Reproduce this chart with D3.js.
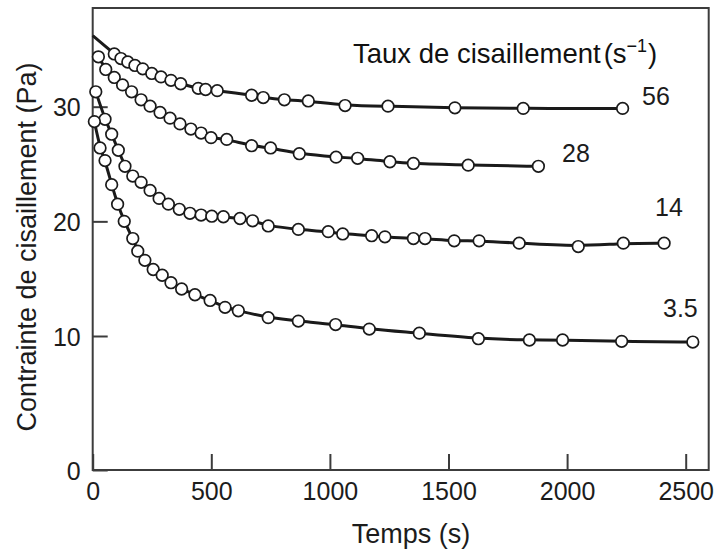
<!DOCTYPE html>
<html>
<head>
<meta charset="utf-8">
<script src="https://cdn.jsdelivr.net/npm/d3@7"></script>
<style>
  html, body { margin: 0; padding: 0; background: #fff; }
  svg { display: block; font-family: "Liberation Sans", Arial, Helvetica, sans-serif; }
</style>
</head>
<body>
<svg id="chart" width="717" height="550"></svg>
<script>
// Shear stress relaxation at four shear rates (time in s, stress in Pa)
const rateLabels = ["56", "28", "14", "3.5"];

const times56  = [91, 119, 148, 178, 211, 249, 288, 330, 371, 445, 476, 525, 670, 719, 808, 909, 1064, 1245, 1527, 1815, 2234];
const stress56 = [34.6, 34.2, 33.9, 33.6, 33.3, 32.9, 32.6, 32.3, 32.0, 31.6, 31.5, 31.4, 31.0, 30.8, 30.6, 30.5, 30.1, 30.05, 29.9, 29.85, 29.85];
// fitted curve for 56 s^-1 starts at the axis
const fitStart56 = [0, 36.2];

const times28  = [24, 55, 91, 126, 164, 204, 242, 284, 326, 368, 414, 457, 499, 565, 670, 750, 871, 1026, 1117, 1253, 1352, 1583, 1879];
const stress28 = [34.35, 33.25, 32.55, 31.9, 31.3, 30.6, 30.05, 29.5, 29.0, 28.5, 28.05, 27.7, 27.3, 27.15, 26.6, 26.4, 25.9, 25.6, 25.5, 25.2, 25.05, 24.9, 24.8];

const times14  = [13, 52, 80, 108, 136, 169, 204, 242, 280, 319, 365, 410, 457, 502, 551, 621, 674, 740, 867, 993, 1054, 1176, 1232, 1352, 1401, 1524, 1629, 1798, 2047, 2237, 2409];
const stress14 = [31.3, 28.9, 27.6, 26.2, 24.8, 23.95, 23.4, 22.7, 22.0, 21.5, 21.05, 20.7, 20.55, 20.45, 20.4, 20.25, 20.05, 19.6, 19.3, 19.1, 18.9, 18.75, 18.65, 18.5, 18.5, 18.3, 18.3, 18.1, 17.8, 18.1, 18.1];

const times35  = [7, 31, 52, 80, 105, 133, 169, 190, 220, 255, 293, 330, 375, 431, 495, 558, 614, 740, 867, 1024, 1166, 1377, 1626, 1841, 1981, 2230, 2530];
const stress35 = [28.7, 26.4, 25.3, 23.2, 21.5, 20.0, 18.5, 17.4, 16.6, 15.8, 15.3, 14.65, 14.1, 13.6, 13.1, 12.5, 12.2, 11.6, 11.3, 11.0, 10.6, 10.25, 9.8, 9.7, 9.7, 9.6, 9.55];

const xTicks = [0, 500, 1000, 1500, 2000, 2500];
const yTicks = [0, 10, 20, 30];

const xTitle = "Temps (s)";
const yTitle = "Contrainte de cisaillement (Pa)";
const legendTitle = "Taux de cisaillement";

// ---- layout ----
const frame = { left: 92.7, right: 708.7, top: 8, bottom: 470 };
const ink = "#1a1a1a";
const axisInk = "#3c3c3c";

const svg = d3.select("#chart");

const x = d3.scaleLinear().domain([0, 2500]).range([frame.left, 685.7]);
// stress axis: the span below 10 Pa is drawn slightly stretched
const y = d3.scaleLinear().domain([0, 10, 30]).range([frame.bottom, 336, 106.7]);

const zip = (ts, vs) => ts.map((t, i) => ({ t, v: vs[i] }));
const series = [
  { label: rateLabels[0], pts: zip(times56, stress56), start: { t: fitStart56[0], v: fitStart56[1] }, lx: 642, ly: 105 },
  { label: rateLabels[1], pts: zip(times28, stress28), start: null, lx: 562, ly: 162 },
  { label: rateLabels[2], pts: zip(times14, stress14), start: null, lx: 655, ly: 216 },
  { label: rateLabels[3], pts: zip(times35, stress35), start: null, lx: 663, ly: 317 }
];

// ---- axes (ticks point inward) ----
const xAxis = d3.axisBottom(x).tickValues(xTicks).tickSizeInner(-16).tickSizeOuter(0).tickPadding(12).tickFormat(d3.format("d"));
const yAxis = d3.axisLeft(y).tickValues(yTicks).tickSizeInner(-15).tickSizeOuter(0).tickPadding(12).tickFormat(d3.format("d"));

const gx = svg.append("g").attr("transform", `translate(0,${frame.bottom})`).call(xAxis);
const gy = svg.append("g").attr("transform", `translate(${frame.left},0)`).call(yAxis);
[gx, gy].forEach(g => {
  g.select(".domain").remove();
  g.selectAll(".tick line").attr("stroke", axisInk).attr("stroke-width", 2);
  g.selectAll(".tick text").attr("fill", "#1c1c1c").style("font-size", "25px")
    .style("font-family", '"Liberation Sans", Arial, sans-serif');
});
gy.selectAll(".tick text").attr("dy", "0.36em");

// frame
svg.append("rect")
  .attr("x", frame.left).attr("y", frame.top)
  .attr("width", frame.right - frame.left).attr("height", frame.bottom - frame.top)
  .attr("fill", "none").attr("stroke", axisInk).attr("stroke-width", 2);

// ---- curves and markers ----
const line = d3.line().x(d => x(d.t)).y(d => y(d.v)).curve(d3.curveBasis);

const gs = svg.append("g");
series.forEach(s => {
  const linePts = s.start ? [s.start].concat(s.pts) : s.pts;
  gs.append("path")
    .attr("d", line(linePts))
    .attr("fill", "none").attr("stroke", ink).attr("stroke-width", 3);
});
series.forEach(s => {
  gs.selectAll(null).data(s.pts).enter().append("circle")
    .attr("cx", d => x(d.t)).attr("cy", d => y(d.v)).attr("r", 5.8)
    .attr("fill", "#fff").attr("stroke", ink).attr("stroke-width", 1.7);
});

// series labels
series.forEach(s => {
  svg.append("text").attr("x", s.lx).attr("y", s.ly)
    .attr("fill", "#1c1c1c").style("font-size", "25px").text(s.label);
});

// legend heading with unit s^-1
const lt = svg.append("text").attr("x", 353).attr("y", 63).attr("fill", "#111").style("font-size", "27.5px");
lt.append("tspan").text(legendTitle);
lt.append("tspan").attr("dx", 3).text("(s");
lt.append("tspan").attr("dy", -11).style("font-size", "18px").text("\u22121");
lt.append("tspan").attr("dy", 11).attr("dx", 1).text(")");

// axis titles
svg.append("text").attr("x", 411).attr("y", 543).attr("text-anchor", "middle")
  .attr("fill", "#1c1c1c").style("font-size", "27px").text(xTitle);
svg.append("text").attr("transform", "translate(36,247) rotate(-90)").attr("text-anchor", "middle")
  .attr("fill", "#1c1c1c").style("font-size", "27px").text(yTitle);
</script>
</body>
</html>
